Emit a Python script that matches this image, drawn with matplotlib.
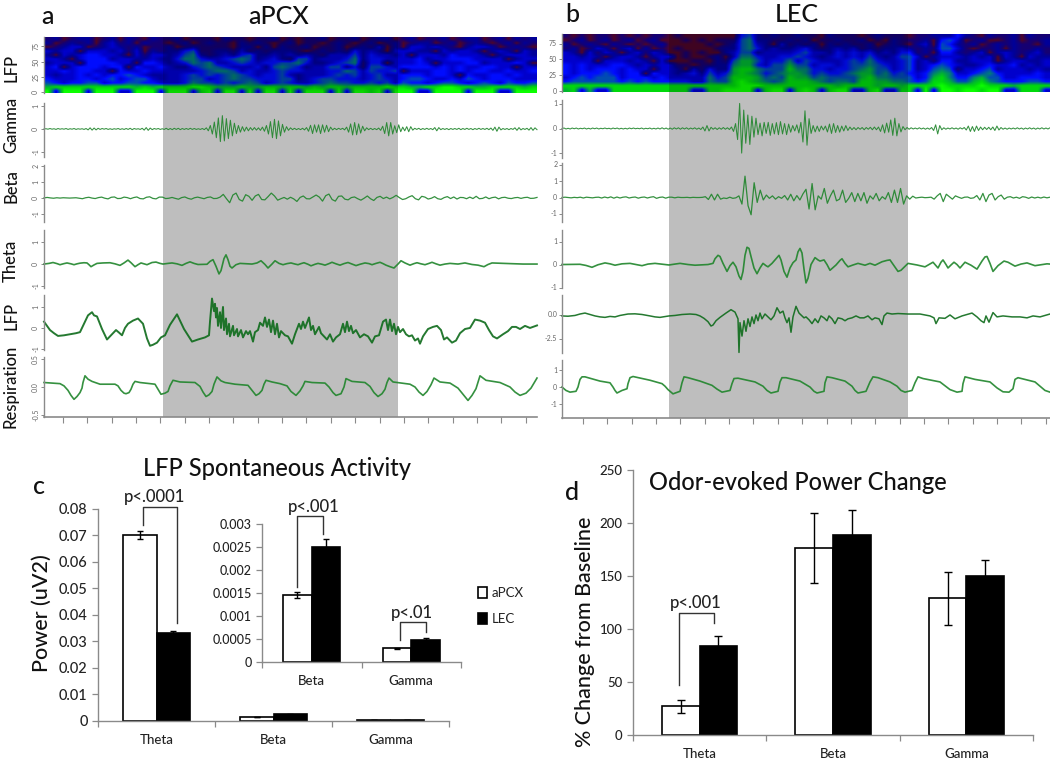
import numpy as np
import matplotlib
matplotlib.use("Agg")
import matplotlib.pyplot as plt
from matplotlib.colors import LinearSegmentedColormap

plt.rcParams["font.family"] = ["Lato", "DejaVu Sans"]

W, H = 1050, 760

# spectrograms, digit = colour level, top row first
SPEC_A = [
    "1201220120 2102112011 1021101120 1011201120 1220120112 0122012021 2",
    "2012120231 2021101201 2110212101 2011012101 2012012201 2012101202 1",
    "0123301232 1201120121 1110220202 1120112012 1302033232 1023320121 0",
    "3233033323 1302122451 1221312122 2101212142 3203332203 2332023203 2",
    "2032344332 0313323562 1232452232 3232133352 4332303332 4333202333 2",
    "3320344423 3223224664 3345652342 1552333462 4433334233 4443333023 3",
    "2333044443 3044323465 6334543445 5642234561 4403334303 3344233343 0",
    "3403444344 0433432245 6543334256 5423355241 5543444434 3433443303 3",
    "3343443304 3343333334 5665343345 4433344653 5445033344 3434433433 4",
    "3233434344 5432233454 5456543445 3233345453 4533444344 3043344343 3",
    "4333443453 4553233455 3456554445 5234554443 4543455433 4354344433 3",
    "5434455344 5544333465 5454565345 4334565544 5453544345 5434543544 5",
    "7888888888 8787888899 8777877887 8878788788 8898877889 9887788887 8",
    "9399939993 3999399938 9399393993 9399939399 8939993399 9939993399 9",
]
SPEC_B = [
    "1010110101 0110100000 0045212112 1102111012 1110112224 2102112021 1",
    "0120120120 1200010101 1156221121 2011211201 0211120453 0120012011 2",
    "2012102101 0120000010 1256320312 1202121120 1210230542 1201212110 2",
    "1201320230 2010100001 2256423223 4212323121 2232121553 1011202112 1",
    "3203132023 1320010100 2355233334 5332434342 3244120442 1230232123 1",
    "3323202332 0233010012 0366433445 4323434353 2355302333 2323032032 2",
    "3333033323 2030001102 1577534463 5433345464 3345231442 2333023322 3",
    "4343334432 3233110112 2677435575 5344345565 4345234543 2234334232 3",
    "4343444343 3033203142 2788655586 6443445675 5345235651 3345233323 2",
    "4344454344 0433234253 4787645677 6454456775 6454346763 3456433334 3",
    "3454555344 4343333364 5888756587 7565555786 6555347864 4675533444 3",
    "4555555454 5444443365 5898765688 8765665887 7665458875 5786544455 4",
    "8888888888 8888888888 8899988888 8888788887 8878888988 8898887888 8",
    "7837338888 8888883388 9999389938 9838993389 3388393998 9989933888 3",
]

# filtered traces, one value per sample
GAMMA_A = [0,.01,-.01,.02,-.01,.01,-.02,.02,-.01,.01,-.01,.02,-.02,.01,-.01,.02,-.02,.01,-.01,.01,-.02,.02,-.04,.05,-.05,.04,-.04,.03,-.02,.02,-.01,.02,-.02,.01,-.02,.01,-.01,.02,-.02,.01,-.02,.02,-.02,.03,-.03,.02,-.01,.01,-.02,.03,-.05,.06,-.06,.04,-.03,.02,-.01,.02,-.02,.01,
 -.02,.03,-.03,.02,-.03,.03,-.02,.03,-.03,.02,-.02,.02,-.02,.03,-.02,.02,-.02,.01,-.02,.02,-.03,.05,-.08,.15,-.22,.3,-.38,.48,-.55,.58,-.52,.45,-.42,.38,-.3,.25,-.2,.15,-.14,.1,-.1,.08,-.08,.06,-.05,.06,-.05,.05,-.06,.08,-.1,.15,-.22,.32,-.38,.42,-.42,.35,-.3,.2,-.14,.1,-.06,.05,-.03,.03,-.03,.02,-.03,.03,-.04,.06,-.1,.16,-.2,.18,-.14,.18,-.2,.18,-.14,.16,-.12,.08,-.04,.03,-.03,.03,-.02,.03,-.04,.08,-.14,.22,-.26,.28,-.25,.22,-.18,.12,-.08,.05,-.03,.03,-.03,.02,-.03,.04,-.06,.12,-.2,.28,-.3,.28,-.22,.14,-.16,.18,
 -.12,.08,-.08,.1,-.12,.1,-.05,.03,-.02,.03,-.03,.02,-.02,.03,-.02,.02,-.03,.06,-.08,.06,-.03,.02,-.02,.02,-.03,.02,-.02,.02,-.02,.03,-.03,.02,-.02,.03,-.02,.02,-.03,.02,-.02,.03,-.02,.02,-.02,.03,-.03,.04,-.06,.08,-.1,.08,-.04,.02,-.02,.02,-.03,.02,-.02,.05,-.06,.06,-.04,.02,-.02,.03,-.05,.06,-.06,.05,-.03]
BETA_A = [0,.03,0,-.02,.01,-.01,.01,0,-.01,0,.01,-.02,-.05,.01,.04,-.01,-.04,.02,.05,-.02,-.06,.04,.06,-.04,-.03,.05,.02,-.05,.02,.06,-.04,-.06,.04,.07,-.03,-.06,.05,.05,-.04,-.02,
 .03,-.03,-.08,.02,.06,-.03,-.08,.01,.05,0,-.05,.03,.06,-.04,-.03,.05,.22,-.05,-.3,.18,.3,-.1,-.2,.2,.1,-.15,.12,.22,-.1,-.12,.08,.3,.12,-.14,-.05,.03,-.08,.04,-.06,-.22,.03,.12,-.05,-.06,.06,.18,.05,-.2,.14,.24,
 -.1,-.2,.1,.12,-.08,-.12,.02,.06,-.05,-.14,-.02,.12,-.05,-.16,.03,.1,-.04,.05,-.06,.03,.16,.02,-.1,-.05,.06,.14,-.05,-.12,.1,.05,-.07,-.02,.08,-.05,-.09,.02,.08,-.04,.06,-.07,.03,.02,-.05,.05,-.04,.1,-.05,-.03,.06,-.05,.02,.05,-.06,.02,.04,-.02,-.04,.01,.03,-.03,.02,.04,-.03,-.02,.03]
GAMMA_B = [0,.02,-.02,.01,-.02,.02,-.01,.02,-.02,.01,-.01,.02,-.02,.01,-.02,.02,-.01,.02,-.02,.01,-.01,.02,-.01,.01,-.02,.02,-.01,.02,-.02,.01,-.02,.01,-.02,.02,-.01,.02,-.01,.01,-.01,.02,-.02,.01,-.01,.02,-.02,.01,-.02,.02,-.02,.03,-.02,.02,
 -.03,.02,-.03,.03,-.02,.03,-.03,.03,-.02,.03,-.03,.02,-.02,.03,-.03,.02,-.04,.06,-.1,.12,-.1,.05,-.03,.03,-.04,.03,-.03,.04,-.03,.03,-.04,.06,-.12,.2,-.45,1.02,-1.0,.75,-.6,.55,-.65,.5,-.35,.42,-.25,.22,-.3,.25,-.2,.25,-.28,.2,-.22,.24,-.25,.28,-.22,.2,-.25,.18,-.15,.12,-.1,.15,-.18,.25,-.55,.72,-.68,.4,-.2,.12,-.14,.1,-.12,.1,-.06,.1,-.14,.18,-.2,.2,-.16,.12,-.15,.1,-.1,.12,-.08,.06,-.05,.04,-.05,.04,-.03,.04,-.05,.04,-.03,.05,-.05,.06,-.05,.06,-.12,.15,-.18,.22,-.15,.35,-.28,.42,-.3,.2,-.14,.08,-.05,.04,-.03,.03,
 -.02,.02,-.02,.03,-.02,.02,-.03,.02,-.03,.04,-.08,.15,-.22,.12,-.05,.03,-.03,.02,-.02,.03,-.02,.02,-.03,.03,-.02,.04,-.06,.1,-.12,.08,-.12,.1,-.08,.06,-.05,.05,-.04,.05,-.05,.06,-.08,.1,-.06,.04,-.03,.02,-.03,.02,-.02,.02,-.02,.03,-.02,.02,-.03,.02,-.02,.03,-.02,.02,-.03,.02,-.02,.03,-.02,.02,-.02,.03]
BETA_B = [0,.02,0,-.02,.01,-.01,.02,-.03,.02,0,-.02,.01,.02,-.03,.03,-.02,.04,-.04,.03,-.03,.02,.04,-.03,.01,.03,-.04,.01,.03,-.03,.02,.05,-.05,.01,.03,-.04,.02,
 .02,-.02,.02,0,0,.01,-.01,.01,0,0,.01,.05,-.12,.2,-.15,.2,-.1,-.03,-.06,.02,-.05,-.02,.1,-.4,1.3,-.5,-1.05,.9,-.3,.45,-.15,.15,-.05,.1,-.1,.05,-.05,.12,-.15,.2,-.2,.12,-.15,.22,.5,-.7,.85,-.75,.1,-.1,.55,-.35,.1,.45,-.2,-.1,.45,-.3,-.05,.3,-.25,.25,-.2,.3,-.35,.1,-.1,.25,-.2,.05,-.1,.3,-.3,.45,-.3,.55,-.4,.1,-.1,.08,-.03,
 0,.02,-.01,0,.02,-.1,.1,.25,-.25,.2,.05,-.1,.1,.02,-.05,.02,.03,-.05,-.02,.12,-.15,.25,-.25,.15,.25,-.15,.05,.15,-.1,.02,.05,-.03,.02,-.05,.05,.02,-.05,.03,-.03,.02,-.03,.03,-.02,.02]

# slower traces as (time, value)
THETA_A = [(44,0),(49,.03),(53,.07),(57,.02),(60,-.03),(64,.02),(67,.05),(71,.01),(74,-.03),(77,.01),(80,.04),(84,.06),(87,.05),(89,-.03),(91,-.12),(94,-.04),(97,.03),(103,.05),(110,.06),(115,.01),(120,-.06),(124,.05),(128,.18),(131,.06),(135,-.12),(138,-.03),(141,.05),(144,.01),(147,-.03),(152,.07),(156,.09),(160,.03),(163,0),(168,.03),(172,.05),(177,.01),(182,-.06),(186,.03),(190,.1),(194,.03),(198,-.02),(207,-.01),(210,.12),(213,.2),(216,-.1),(219,-.45),(221,-.3),(224,.25),(226,.42),(228,.2),(230,-.1),(232,-.18),(236,-.03),(240,.03),(252,0),(257,.05),(261,.15),(265,-.02),(268,-.18),(272,0),(275,.15),(279,.03),(283,-.03),(287,.02),(291,.05),(295,0),(298,-.03),(301,.02),(304,.06),(308,-.01),(311,-.08),(315,-.01),(318,.03),(322,-.01),(325,-.05),(329,.02),(332,.08),(336,.01),(340,-.05),(344,.02),(348,.07),(352,0),(356,-.07),(360,-.01),(365,.05),(369,.02),(372,-.03),(376,.03),(380,.08),(383,.02),(386,-.05),(390,-.12),(394,-.18),(398,0),(401,.15),(405,.05),(410,-.05),(414,.02),(417,.06),(421,.01),(425,-.03),(429,.03),(432,.08),(436,.01),(440,-.05),(445,0),(450,.03),(458,0),(465,.05),(472,-.02),(478,-.05),(484,-.12),(488,-.02),(492,.05),(510,.02),(523,0),(537,0)]
LFP_A = [(44,.3),(47,.1),(50,-.1),(54,-.25),(58,-.38),(64,-.35),(70,-.3),(76,-.25),(80,-.2),(84,.2),(88,.6),(92,.75),(94,.6),(97,.55),(102,-.05),(107,-.55),(112,-.3),(116,-.1),(119,-.22),(122,-.35),(125,0),(128,.2),(133,.35),(138,.45),(141,.3),(143,.2),(147,-.5),(150,-.85),(153,-.8),(157,-.7),(161,-.45),(165,-.35),(170,.15),(177,.65),(184,-.05),(192,-.65),(198,-.55),(205,-.45),(209,-.35),(210,.3),(212,1.4),(214,.8),(215,1.15),(216,.5),(217,.95),(218,.1),(220,.75),(221,0),(223,1),(224,-.1),(226,.45),(227,-.3),(229,.2),(230,-.4),(233,.1),(234,-.35),(237,-.05),(238,-.4),(241,-.1),(243,-.45),(246,-.15),(248,-.3),(250,-.15),(253,-.65),(255,-.2),(258,-.1),(260,.25),(263,.1),(265,.5),(267,.05),(269,.4),(271,-.2),(273,.35),(275,-.3),(277,.2),(279,-.45),(281,-.15),(285,-.35),(288,-.4),(292,-.75),(295,-.3),(299,.2),(301,-.05),(303,.3),(305,0),(309,.5),(311,-.1),(313,.1),(315,-.3),(319,.05),(321,-.25),(324,-.4),(327,-.55),(330,-.3),(333,-.65),(336,-.45),(340,-.3),(343,.2),(345,-.2),(347,.3),(349,-.15),(351,.1),(353,-.25),(356,-.1),(360,-.45),(364,-.3),(368,-.4),(372,-.7),(375,-.4),(379,-.35),(383,.3),(386,.4),(388,-.1),(390,.4),(392,-.15),(394,.2),(396,-.3),(398,.05),(400,-.2),(403,-.05),(406,-.3),(409,-.4),(412,-.35),(415,-.6),(418,-.5),(420,-.75),(423,-.4),(428,-.05),(433,.05),(437,.1),(441,-.1),(444,-.55),(447,-.45),(452,-.7),(456,-.6),(460,-.25),(465,-.05),(470,0),(475,.4),(480,.35),(485,.25),(489,-.1),(493,-.4),(497,-.5),(503,-.3),(508,-.15),(512,.05),(516,.05),(520,-.05),(525,.1),(530,0),(537,.12)]
RESP_A = [(44,.08),(52,.07),(60,.06),(64,.02),(68,-.06),(71,-.15),(74,-.22),(77,-.17),(80,-.1),(82,-.02),(83,.08),(85,.2),(88,.14),(92,.1),(100,.05),(115,.05),(118,.02),(121,-.06),(124,-.11),(126,-.12),(129,-.1),(131,-.04),(133,.05),(135,.1),(140,.08),(155,.05),(158,-.04),(161,-.13),(165,-.11),(168,-.08),(170,.02),(173,.12),(180,.09),(195,.08),(200,.01),(203,-.09),(206,-.17),(209,-.14),(212,-.08),(214,.05),(217,.18),(221,.11),(225,.08),(235,.05),(248,.03),(252,-.06),(256,-.15),(259,-.12),(262,-.06),(264,.05),(266,.12),(272,.09),(280,.06),(287,.02),(291,-.08),(296,-.15),(300,-.07),(303,.02),(305,.1),(312,.08),(325,.07),(329,0),(333,-.1),(336,-.15),(341,-.12),(344,0),(346,.15),(352,.1),(365,.08),(370,.01),(374,-.1),(378,-.17),(382,-.12),(385,-.04),(387,.08),(389,.16),(393,.09),(410,.05),(415,0),(419,-.09),(423,-.15),(427,-.08),(431,.04),(434,.16),(440,.09),(450,.07),(458,-.02),(463,-.13),(468,-.24),(472,-.15),(476,-.03),(480,.2),(486,.12),(500,.08),(510,0),(515,-.09),(520,-.15),(526,-.11),(531,-.02),(537,.16)]
THETA_B = [(562,0),(580,.01),(586,-.04),(592,-.12),(598,-.01),(605,.07),(610,.03),(615,-.03),(622,.03),(630,.05),(636,0),(642,-.05),(648,.02),(655,.05),(669,-.02),(675,.02),(680,.05),(688,0),(695,-.03),(708,0),(713,.05),(715,.25),(718,.4),(720,.35),(723,.05),(727,-.3),(730,-.05),(733,.1),(736,-.1),(739,-.5),(741,-.65),(743,-.3),(745,.4),(747,.75),(749,.7),(751,.35),(754,-.15),(757,-.4),(760,-.15),(763,.05),(766,-.05),(768,-.1),(772,.05),(776,.25),(779,.4),(781,.2),(784,-.3),(787,-.55),(790,-.15),(793,.08),(796,.2),(798,.55),(800,.7),(802,.5),(804,-.2),(806,-.8),(808,-.6),(811,0),(815,.3),(818,.2),(820,.15),(824,.2),(827,0),(830,-.25),(836,-.02),(840,.18),(842,.25),(845,.05),(848,-.1),(853,-.02),(858,.05),(865,-.03),(870,.05),(875,-.03),(882,.12),(887,.18),(890,.2),(894,-.05),(898,-.3),(901,-.25),(908,.05),(917,-.02),(925,-.1),(929,0),(933,.1),(936,-.05),(938,-.15),(941,.1),(943,.2),(946,0),(948,-.15),(951,-.02),(954,.1),(957,0),(960,-.15),(963,0),(965,.1),(971,-.03),(977,-.2),(982,.15),(985,.33),(987,.35),(990,.05),(993,-.3),(998,-.05),(1004,.15),(1008,.1),(1015,-.07),(1021,.02),(1027,.07),(1035,-.05),(1047,.03),(1050,.02)]
LFP_B = [(562,-.1),(568,-.13),(575,-.05),(580,.1),(585,.2),(590,.05),(595,-.1),(600,-.2),(605,-.25),(610,-.15),(615,-.2),(620,-.05),(628,.1),(635,.12),(642,.05),(650,-.1),(655,-.2),(660,-.25),(669,-.1),(675,-.05),(682,.05),(690,.1),(696,.05),(700,-.1),(704,-.35),(708,-.7),(711,-1.15),(713,-1.05),(716,-.6),(720,-.25),(726,.2),(731,.55),(735,.3),(738,-.4),(739,-3.9),(740,-.8),(742,-2.2),(744,-.6),(746,-1.7),(748,-.4),(750,-1.2),(752,-.2),(754,-.9),(756,0),(758,-.6),(760,.2),(762,-.4),(765,.1),(768,-.2),(771,-.5),(774,-.1),(777,.75),(780,.2),(783,.4),(785,-.3),(787,-.8),(789,-.3),(791,-1.8),(793,-.2),(796,.9),(799,.2),(802,-.1),(804,-.3),(806,-.2),(809,-.5),(812,-.9),(815,-.4),(818,-.8),(821,-.1),(824,-.3),(827,-.6),(829,-.1),(832,-.4),(835,-.9),(838,-.3),(842,-.4),(845,-.6),(848,-.4),(852,-.3),(856,-.1),(860,-.3),(864,-.3),(868,-.1),(872,-.5),(875,-.3),(879,-.4),(882,-1.0),(884,-.1),(887,.2),(892,.1),(898,.15),(908,.1),(920,.1),(925,0),(930,-.1),(934,-.3),(936,-.9),(939,-.3),(945,-.35),(950,0),(955,-.4),(962,-.1),(972,.2),(977,-.2),(981,-.6),(984,-.8),(986,-.1),(989,-.75),(993,.25),(997,-.2),(1003,-.1),(1012,-.2),(1020,-.2),(1027,-.3),(1033,-.1),(1040,-.2),(1050,.1)]
RESP_B = [(562,0),(566,-.2),(570,-.3),(576,-.25),(578,0),(580,.45),(582,.6),(585,.6),(600,.35),(610,.25),(613,0),(615,-.2),(617,-.35),(622,-.2),(627,-.1),(628,.2),(630,.55),(633,.62),(650,.4),(662,.2),(665,.05),(668,-.15),(673,-.4),(680,-.25),(682,.25),(684,.6),(688,.55),(700,.35),(712,.1),(717,-.12),(722,-.3),(730,-.2),(732,.2),(734,.5),(738,.52),(755,.3),(763,.05),(767,-.2),(771,-.35),(778,-.25),(780,.3),(782,.55),(786,.55),(800,.35),(810,0),(814,-.25),(817,-.35),(824,-.25),(825,.25),(827,.6),(832,.55),(845,.35),(852,.05),(855,-.2),(858,-.35),(866,-.25),(870,.3),(873,.6),(878,.55),(890,.3),(897,.05),(901,-.2),(905,-.3),(912,-.2),(915,.25),(918,.6),(923,.5),(940,.3),(950,-.15),(957,-.3),(962,-.25),(963,.2),(965,.6),(975,.45),(990,.3),(997,-.05),(1003,-.28),(1009,-.3),(1013,-.1),(1015,.45),(1018,.55),(1035,.3),(1040,.05),(1045,-.2),(1050,-.3)]

# bar data
CATS = ["Theta", "Beta", "Gamma"]
C_APCX = [.070, .0015, .0003]
C_LEC = [.033, .0025, .0004]
C_APCX_ERR = [.0015, .00007, .00001]
C_LEC_ERR = [.0007, .00017, .00005]
INSET_CATS = ["Beta", "Gamma"]
INSET_APCX = [.00146, .00030]
INSET_LEC = [.0025, .00048]
INSET_APCX_ERR = [.00007, .00001]
INSET_LEC_ERR = [.00017, .00005]
D_APCX = [27, 176, 129]
D_LEC = [84, 189, 150]
D_APCX_ERR = [6, 33, 25]
D_LEC_ERR = [9, 23, 15]

spec_cmap = LinearSegmentedColormap.from_list("spec", [(.30, .02, .16), (.08, 0, .45), (0, 0, .6), (0, 0, .8), (0, .05, 1),
                                                       (0, .3, .7), (0, .5, .45), (0, .7, .2), (0, .85, .05), (.05, 1, 0)])

fig = plt.figure(figsize=(W / 100, H / 100), dpi=100, facecolor="white")
GREY = "#8a8a8a"
TXT = "#222222"


def ax_px(left, top, right, bottom):
    a = fig.add_axes([left / W, 1 - bottom / H, (right - left) / W, (bottom - top) / H])
    a.patch.set_alpha(0)
    return a


def label(x, y, s, size, **kw):
    kw.setdefault("color", "#111111")
    fig.text(x / W, 1 - y / H, s, fontsize=size, ha="center", va="center", fontweight="medium", **kw)


def left_axis(a, ticks, labels, rot):
    for s in ["top", "right", "bottom"]:
        a.spines[s].set_visible(False)
    a.spines["left"].set_color(GREY)
    a.spines["left"].set_linewidth(1)
    a.set_xticks([])
    a.set_yticks(ticks)
    a.set_yticklabels(labels, fontsize=5, color="#666666", rotation=rot, va="center")
    a.tick_params(axis="y", length=2, width=.7, color=GREY, pad=1.5)


def trace(a, x, y, lw=1.0, color=(.12, .52, .17)):
    a.plot(x, y, color=color, lw=lw, alpha=.9, solid_joinstyle="round", clip_on=False)


def panel(left, right, grey0, grey1, spec, spec_top, spec_bot, rows, gamma, beta, theta, lfp, resp, first_tick, rot, dark):
    bg = ax_px(left, 0, right, H)
    bg.set_xlim(left, right)
    bg.set_ylim(H, 0)
    bg.axis("off")
    bg.fill_between([grey0, grey1], spec_bot, rows[-1][1], color="#bebebe", lw=0)

    s = ax_px(left, spec_top, right, spec_bot)
    data = np.array([[int(c) for c in r.replace(" ", "")] for r in spec])
    s.imshow(data, cmap=spec_cmap, vmin=0, vmax=9, aspect="auto", interpolation="bilinear",
             extent=[left, right, -1, 90])
    s.axvspan(grey0, grey1, color="black", alpha=.16, lw=0)
    left_axis(s, [0, 25, 50, 75], ["0", "25", "50", "75"], rot)

    series = [gamma, beta, theta, lfp, resp]
    for i, ((top, bot, ylim, ticks, labels), y) in enumerate(zip(rows, series)):
        a = ax_px(left, top, right, bot)
        a.set_xlim(left, right)
        a.set_ylim(*ylim)
        left_axis(a, ticks, labels, rot)
        if i < 2:
            trace(a, np.linspace(left, right, len(y)), y, lw=.75 if i == 0 else .9)
        else:
            t, v = np.array(y).T
            if i == 3:
                trace(a, t, v, lw=1.4 if dark else 1.1, color=(.05, .42, .1))
            else:
                trace(a, t, v, lw=1.2)
        if i == 4:
            a.spines["bottom"].set_visible(True)
            a.spines["bottom"].set_color(GREY)
            a.spines["bottom"].set_linewidth(1.2)
            a.set_xticks(np.arange(first_tick, right + 1, 24.35))
            a.set_xticklabels([])
            a.tick_params(axis="x", length=4, width=.8, color=GREY)


rows_a = [
    (103, 157, (-1.22, 1.13), [-1, 0, 1], ["-1", "0", "1"]),
    (165, 222, (-1.5, 2.05), [-1, 0, 1, 2], ["-1", "0", "1", "2"]),
    (230, 288, (-1.09, 1.55), [-1, 0, 1], ["-1", "0", "1"]),
    (295, 350, (-1.05, 1.57), [-1, 0, 1], ["-1", "0", "1"]),
    (357, 417, (-.536, .536), [-.5, 0, .5], ["-0.5", "0.0", "0.5"]),
]
rows_b = [
    (100, 158, (-1.2, 1.16), [-1, 0, 1], ["-1", "0", "1"]),
    (163, 222, (-1.49, 2.1), [-1, 0, 1, 2], ["-1", "0", "1", "2"]),
    (230, 288, (-1.02, 1.5), [-1, 0, 1], ["-1", "0", "1"]),
    (295, 353, (-3.96, 2.08), [0, -2.5], ["0.0", "-2.5"]),
    (360, 418, (-1.82, 1.59), [-1, 0, 1], ["-1", "0", "1"]),
]
panel(44, 537, 163, 397.5, SPEC_A, 37, 93, rows_a, GAMMA_A, BETA_A, THETA_A, LFP_A, RESP_A, 63, 90, True)
panel(562, 1050, 669, 908, SPEC_B, 34, 92, rows_b, GAMMA_B, BETA_B, THETA_B, LFP_B, RESP_B, 583, 0, False)

for y, s in [(68, "LFP"), (125, "Gamma"), (186, "Beta"), (261, "Theta"), (316, "LFP"), (386, "Respiration")]:
    label(11, y, s, 12, rotation=90)

label(48, 16, "a", 18)
label(279, 16, "aPCX", 18)
label(572, 15, "b", 18)
label(797, 15, "LEC", 18)
label(39, 486, "c", 18)
label(572, 492, "d", 18)
label(277, 469, "LFP Spontaneous Activity", 17)
label(798, 482, "Odor-evoked Power Change", 17)
label(42, 613, "Power (uV2)", 15.5, rotation=90)
label(585, 632, "% Change from Baseline", 15.5, rotation=90)


def bars(a, cats, v1, v2, e1, e2, width, tick_size, cap=2.5):
    x = np.arange(len(cats)) + .5
    h1 = a.bar(x - width / 2, v1, width, color="white", edgecolor="black", lw=1.2, yerr=e1,
               error_kw=dict(ecolor="black", lw=1, capsize=cap, capthick=1), label="aPCX")
    h2 = a.bar(x + width / 2, v2, width, color="black", edgecolor="black", lw=1.2, yerr=e2,
               error_kw=dict(ecolor="black", lw=1, capsize=cap, capthick=1), label="LEC")
    a.set_xlim(0, len(cats))
    a.set_xticks(np.arange(len(cats) + 1))
    a.set_xticklabels([])
    for c, xc in zip(cats, x):
        a.annotate(c, (xc, 0), xytext=(0, -14), textcoords="offset points", ha="center", va="center",
                   fontsize=tick_size, color=TXT, fontweight="medium")
    for k in ["top", "right"]:
        a.spines[k].set_visible(False)
    for k in ["left", "bottom"]:
        a.spines[k].set_color(GREY)
        a.spines[k].set_linewidth(1)
    a.tick_params(axis="both", color=GREY, length=4, width=.9, labelcolor=TXT)
    return h1, h2


def bracket(a, x0, x1, top, y0, y1, text, tx, ty, size):
    a.plot([x0, x0, x1, x1], [y0, top, top, y1], color="#333333", lw=1, clip_on=False)
    a.text(tx, ty, text, ha="center", va="center", fontsize=size, color="#222222", clip_on=False, fontweight="medium")


# panel c
c = ax_px(98, 508.7, 449, 720.7)
h1, h2 = bars(c, CATS, C_APCX, C_LEC, C_APCX_ERR, C_LEC_ERR, .283, 9.5)
c.set_ylim(0, .08)
c.set_yticks(np.arange(0, .081, .01))
c.set_yticklabels(["0", "0.01", "0.02", "0.03", "0.04", "0.05", "0.06", "0.07", "0.08"], fontsize=10.5, fontweight="medium")
bracket(c, .385, .675, .0806, .0738, .037, "p<.0001", .487, .0845, 12)

# inset in c
i = ax_px(262, 524, 461, 662)
bars(i, INSET_CATS, INSET_APCX, INSET_LEC, INSET_APCX_ERR, INSET_LEC_ERR, .287, 9.5)
i.set_ylim(0, .003)
i.set_yticks(np.arange(0, .0031, .0005))
i.set_yticklabels(["0", "0.0005", "0.001", "0.0015", "0.002", "0.0025", "0.003"], fontsize=9, fontweight="medium")
bracket(i, .349, .613, .00317, .00164, .00278, "p<.001", .523, .00338, 12)
bracket(i, 1.387, 1.648, .00087, .00048, .00066, "p<.01", 1.508, .00107, 12)

fig.legend(handles=[h1, h2], labels=["aPCX", "LEC"], loc="center left", frameon=False, fontsize=9.5,
           bbox_to_anchor=(471.5 / W, 1 - 606 / H), handlelength=.7, handleheight=.9, handletextpad=.35,
           labelspacing=1.05, borderpad=0, labelcolor=TXT)

# panel d
d = ax_px(633, 470, 1033, 735)
bars(d, CATS, D_APCX, D_LEC, D_APCX_ERR, D_LEC_ERR, .282, 9.5, cap=3)
d.set_ylim(0, 250)
d.set_yticks(np.arange(0, 251, 50))
d.set_yticklabels(["0", "50", "100", "150", "200", "250"], fontsize=9.5, fontweight="medium")
bracket(d, .344, .61, 114.8, 47, 106, "p<.001", .473, 124.5, 12)

fig.savefig("out.png", dpi=100)
